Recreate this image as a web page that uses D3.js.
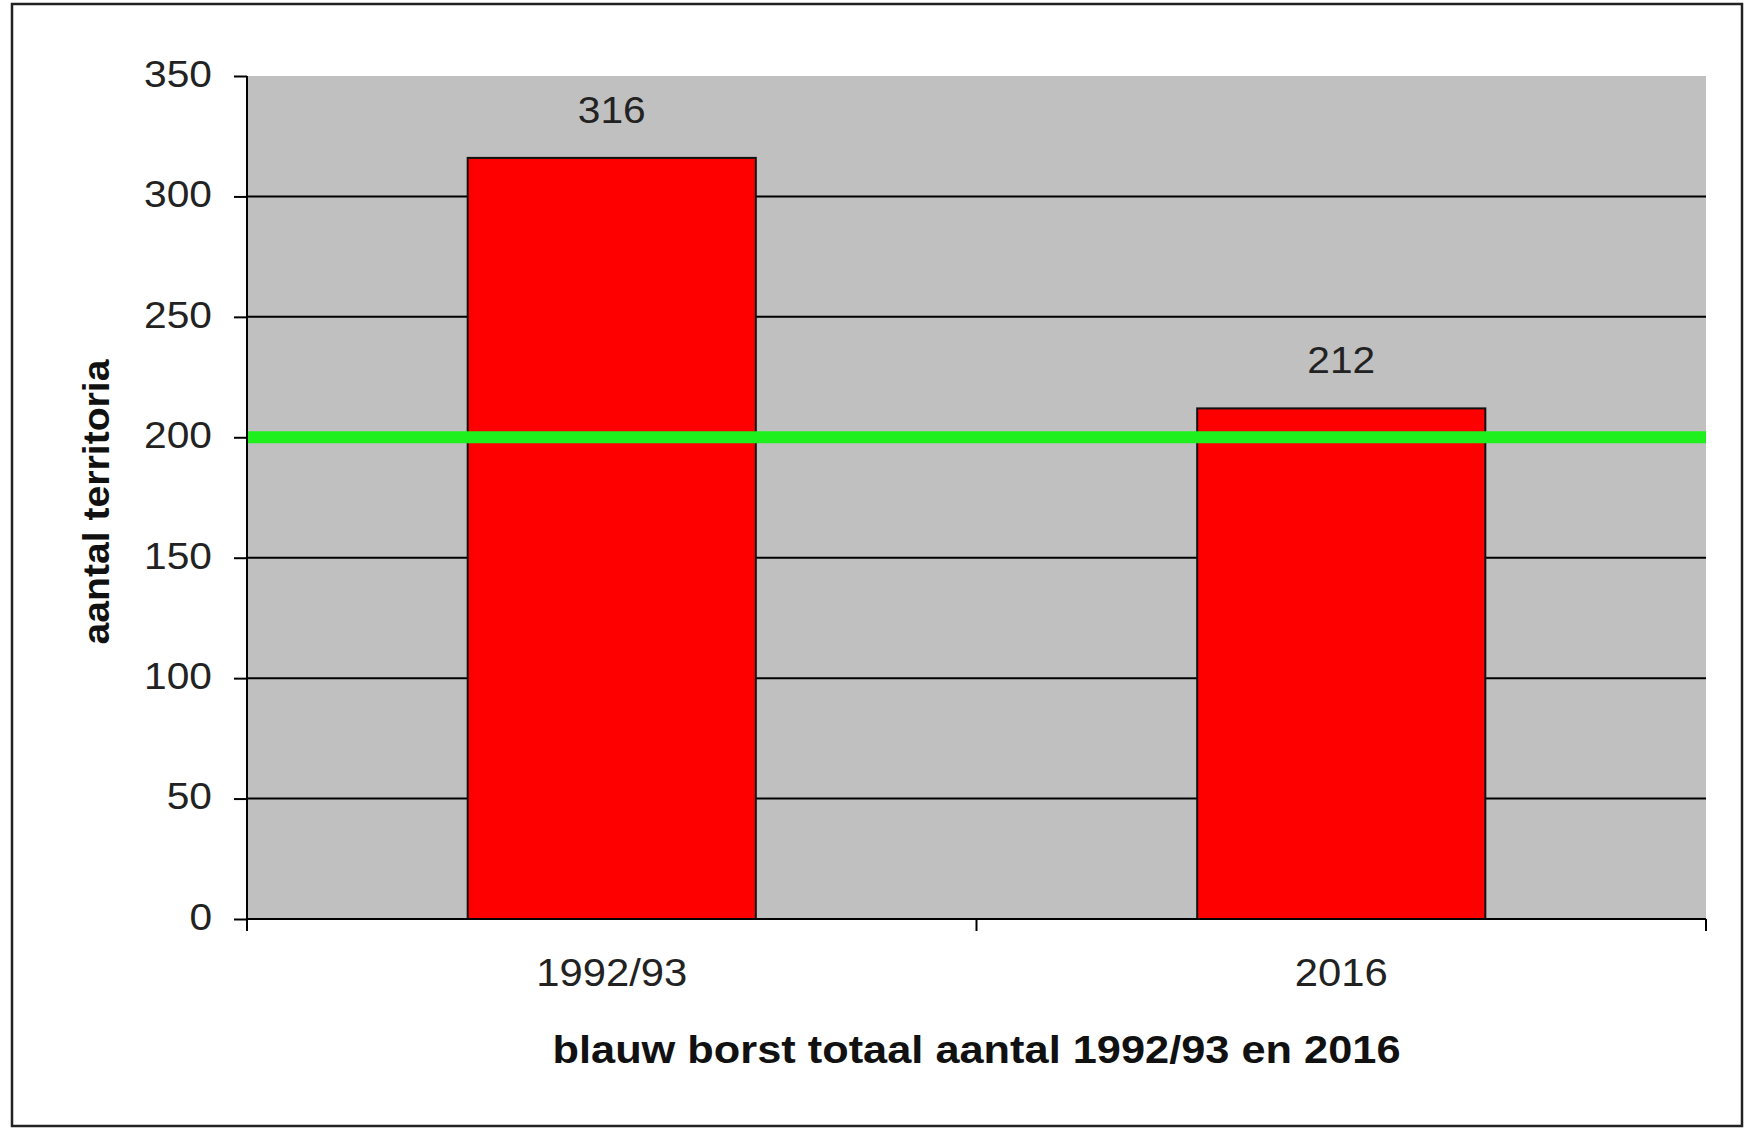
<!DOCTYPE html>
<html>
<head>
<meta charset="utf-8">
<script src="https://cdn.jsdelivr.net/npm/d3@7"></script>
<style>
  html, body { margin: 0; padding: 0; background: #fff; }
  svg { display: block; font-family: "Liberation Sans", Arial, sans-serif; }
</style>
</head>
<body>
<script>
const categories = ["1992/93", "2016"];
const values = [316, 212];
const yTicks = [0, 50, 100, 150, 200, 250, 300, 350];
const referenceValue = 200;
const xTitle = "blauw borst totaal aantal 1992/93 en 2016";
const yTitle = "aantal territoria";

const W = 1754, H = 1128;
const plot = { left: 247, right: 1706, top: 76, bottom: 919 };

const svg = d3.select("body").append("svg").attr("width", W).attr("height", H);

// outer frame
svg.append("rect").attr("x", 12).attr("y", 4).attr("width", 1730).attr("height", 1122)
  .attr("fill", "#fff").attr("stroke", "#222").attr("stroke-width", 2.5);

const x = d3.scaleBand().domain(categories).range([plot.left, plot.right]).padding(0);
const y = d3.scaleLinear().domain([0, 350]).range([plot.bottom, plot.top]);

// plot background
svg.append("rect").attr("x", plot.left).attr("y", plot.top)
  .attr("width", plot.right - plot.left).attr("height", plot.bottom - plot.top)
  .attr("fill", "#c0c0c0");

// gridlines
svg.append("g").selectAll("line").data(yTicks.filter(d => d > 0 && d < 350)).join("line")
  .attr("x1", plot.left).attr("x2", plot.right)
  .attr("y1", d => y(d)).attr("y2", d => y(d))
  .attr("stroke", "#000").attr("stroke-width", 2);

// bars
const barFrac = 0.395;
svg.append("g").selectAll("rect").data(values).join("rect")
  .attr("x", (d, i) => x(categories[i]) + x.bandwidth() * (1 - barFrac) / 2)
  .attr("width", x.bandwidth() * barFrac)
  .attr("y", d => y(d))
  .attr("height", d => y(0) - y(d))
  .attr("fill", "#ff0000").attr("stroke", "#111").attr("stroke-width", 2);

// reference line
svg.append("line")
  .attr("x1", plot.left).attr("x2", plot.right)
  .attr("y1", y(referenceValue)).attr("y2", y(referenceValue))
  .attr("stroke", "#1ef01e").attr("stroke-width", 12);

// value labels
svg.append("g").attr("class", "stretch").selectAll("text").data(values).join("text")
  .attr("x", (d, i) => x(categories[i]) + x.bandwidth() / 2)
  .attr("y", d => y(d) - 35)
  .attr("text-anchor", "middle")
  .attr("font-size", 37).attr("fill", "#222")
  .text(d => d);

// y axis
const yAxis = svg.append("g").attr("class", "stretch").attr("transform", `translate(${plot.left},0)`)
  .call(d3.axisLeft(y).tickValues(yTicks).tickSize(13).tickPadding(22).tickFormat(d3.format("d")));
yAxis.select(".domain").attr("stroke", "#000").attr("stroke-width", 2).attr("d", `M0,${plot.top}V${plot.bottom}`);
yAxis.selectAll(".tick line").attr("stroke", "#000").attr("stroke-width", 2);
yAxis.selectAll(".tick text").attr("font-size", 37).attr("fill", "#222")
  .attr("font-family", "Liberation Sans, Arial, sans-serif").attr("dy", "0.28em");

// x axis
const xAxis = svg.append("g").attr("class", "stretch").attr("transform", `translate(0,${plot.bottom})`)
  .call(d3.axisBottom(x).tickSize(0).tickPadding(40));
xAxis.select(".domain").attr("stroke", "#000").attr("stroke-width", 2).attr("d", `M${plot.left},0H${plot.right}`);
xAxis.selectAll(".tick text").attr("font-size", 38).attr("fill", "#222")
  .attr("font-family", "Liberation Sans, Arial, sans-serif").attr("dy", "0.71em");
const sepPositions = [x(categories[0]), x(categories[1]), x(categories[1]) + x.bandwidth()];
xAxis.append("g").selectAll("line").data(sepPositions).join("line")
  .attr("x1", d => d).attr("x2", d => d).attr("y1", 0).attr("y2", 12)
  .attr("stroke", "#000").attr("stroke-width", 2);

// stretch texts horizontally ~10% like the reference
svg.selectAll(".stretch text").each(function() {
  const len = this.getComputedTextLength();
  d3.select(this).attr("textLength", len * 1.1).attr("lengthAdjust", "spacingAndGlyphs");
});

// axis titles
svg.append("text")
  .attr("x", (plot.left + plot.right) / 2).attr("y", 1063)
  .attr("text-anchor", "middle").attr("font-size", 39).attr("font-weight", "bold").attr("fill", "#111")
  .attr("textLength", 848).attr("lengthAdjust", "spacingAndGlyphs")
  .text(xTitle);

svg.append("text")
  .attr("transform", `translate(109,${502}) rotate(-90)`)
  .attr("text-anchor", "middle").attr("font-size", 37).attr("font-weight", "bold").attr("fill", "#111")
  .attr("textLength", 285).attr("lengthAdjust", "spacingAndGlyphs")
  .text(yTitle);
</script>
</body>
</html>
